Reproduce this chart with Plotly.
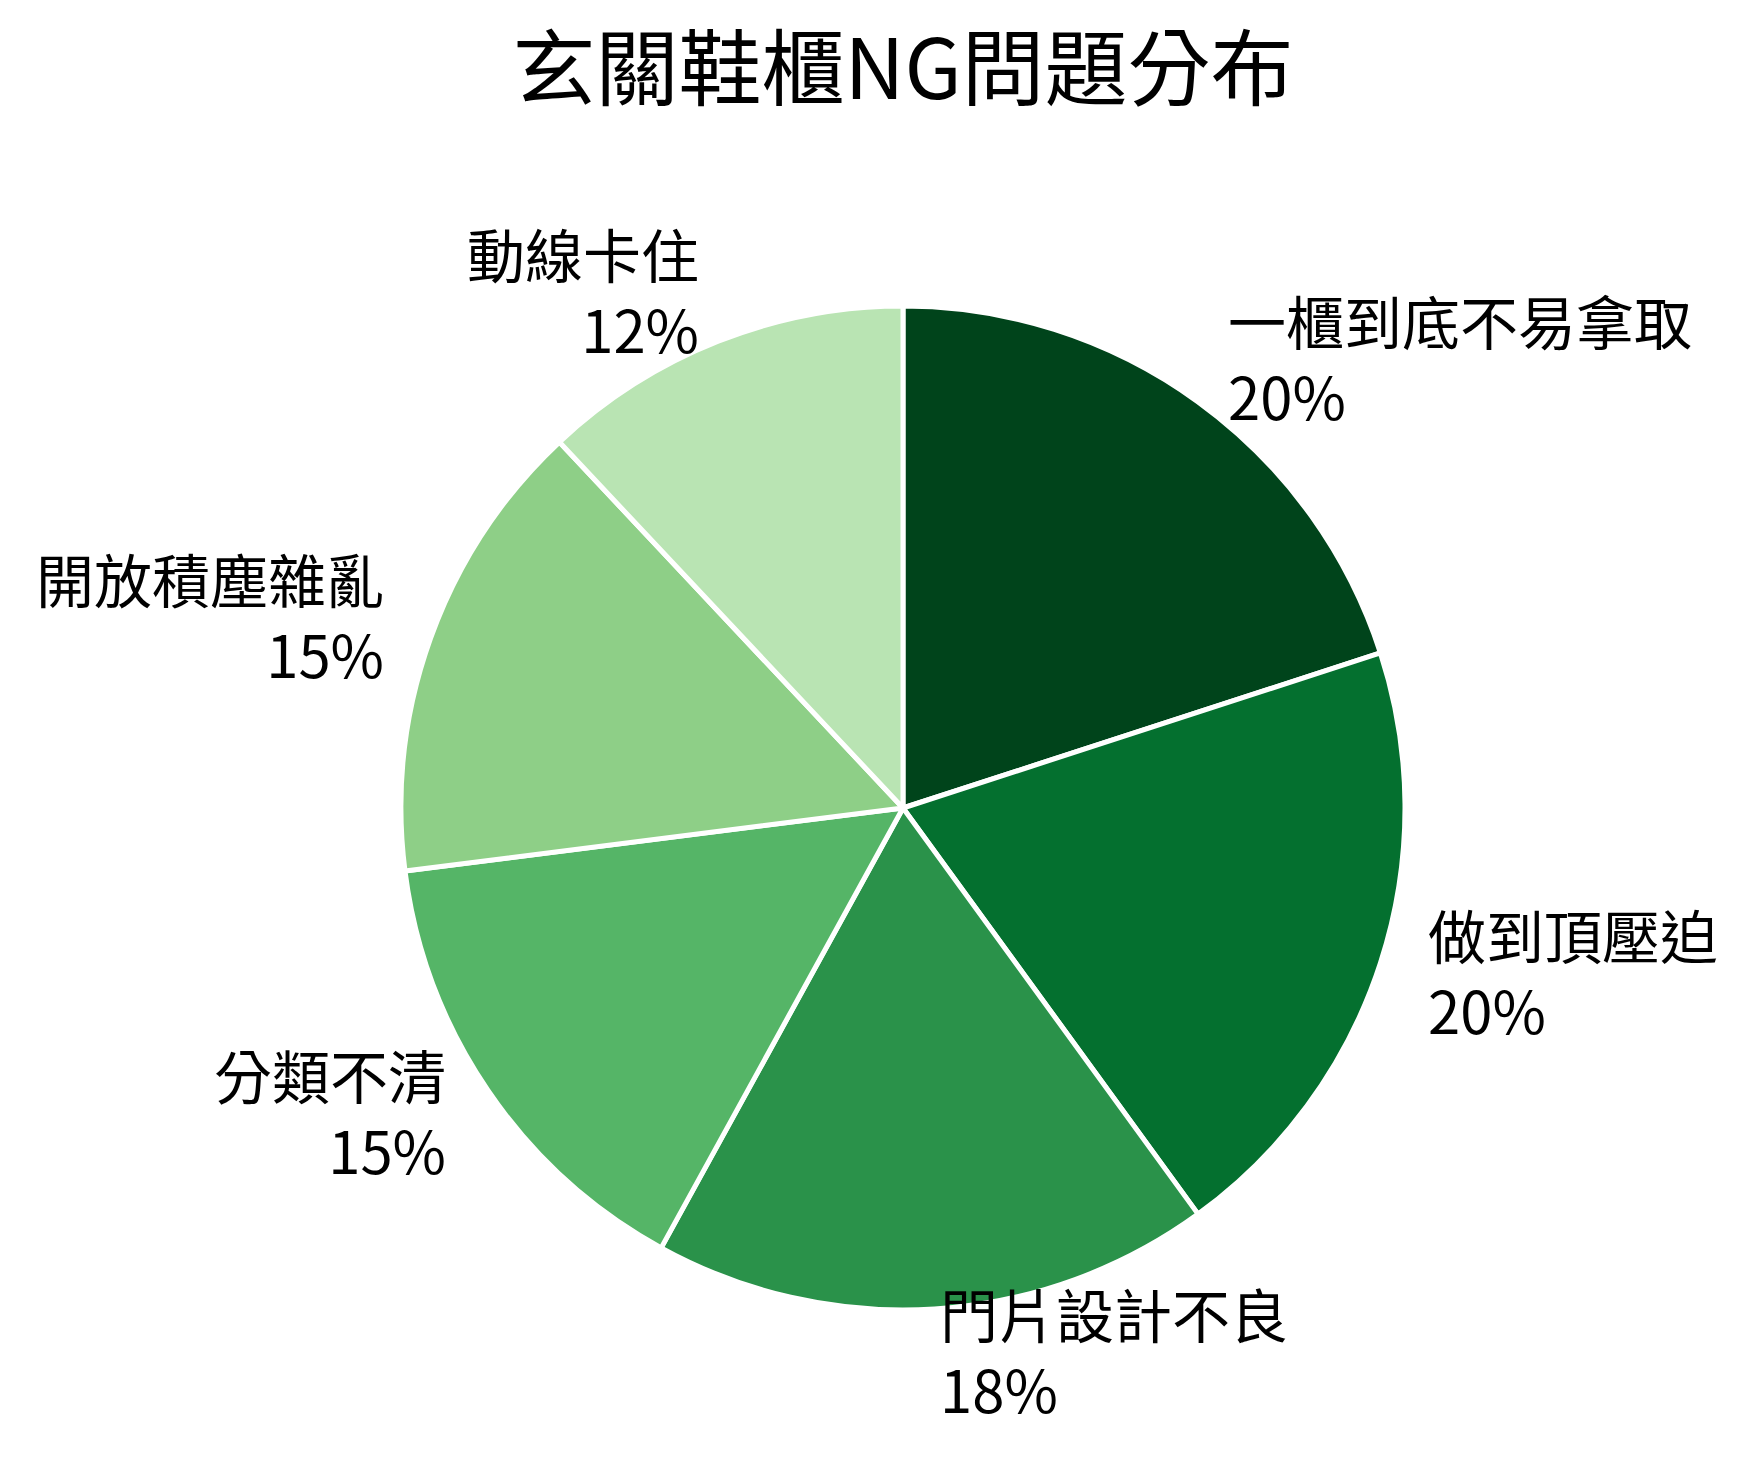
import math
import plotly.graph_objects as go

# data
labels = ["一櫃到底不易拿取", "做到頂壓迫", "門片設計不良", "分類不清", "開放積塵雜亂", "動線卡住"]
values = [20, 20, 18, 15, 15, 12]
colors = ["#00441b", "#04702f", "#2a924a", "#55b567", "#8ecf87", "#b9e4b3"]

# layout (pixels)
W, H = 1749, 1468
CX, CY, R = 903, 808, 502
FONT = "Noto Sans CJK TC"

fig = go.Figure()
fig.add_trace(go.Pie(
    labels=labels,
    values=values,
    sort=False,
    direction="clockwise",
    rotation=0,
    marker=dict(colors=colors, line=dict(color="white", width=5)),
    textinfo="none",
    hoverinfo="label+percent",
    showlegend=False,
    domain=dict(x=[(CX - R) / W, (CX + R) / W],
                y=[1 - (CY + R) / H, 1 - (CY - R) / H]),
))

# outside labels at 1.1 * radius, like the original
total = sum(values)
cum = 0
annotations = []
for lab, v in zip(labels, values):
    mid = (cum + v / 2) / total * 360
    cum += v
    theta = math.radians(90 - mid)
    px = CX + 1.1 * 500 * math.cos(theta)
    py = CY - 1.1 * 500 * math.sin(theta)
    right = math.cos(theta) >= 0
    annotations.append(dict(
        x=px / W, y=1 - py / H, xref="paper", yref="paper",
        text=f"{lab}<br>{round(v / total * 100)}%",
        showarrow=False,
        xanchor="left" if right else "right",
        yanchor="middle",
        yshift=6,
        align="left" if right else "right",
        font=dict(family=FONT, size=58, color="black"),
    ))

fig.update_layout(
    width=W, height=H,
    margin=dict(l=0, r=0, t=0, b=0),
    paper_bgcolor="white",
    plot_bgcolor="white",
    font=dict(family=FONT, color="black"),
    title=dict(text="玄關鞋櫃NG問題分布", x=CX / W, xanchor="center",
               y=1 - 70 / H, yanchor="middle",
               font=dict(family=FONT, size=83, color="black")),
    annotations=annotations,
)

fig.write_html("out.html", config={"displayModeBar": False},
               post_script="document.body.style.margin='0';document.body.style.overflow='hidden';")
